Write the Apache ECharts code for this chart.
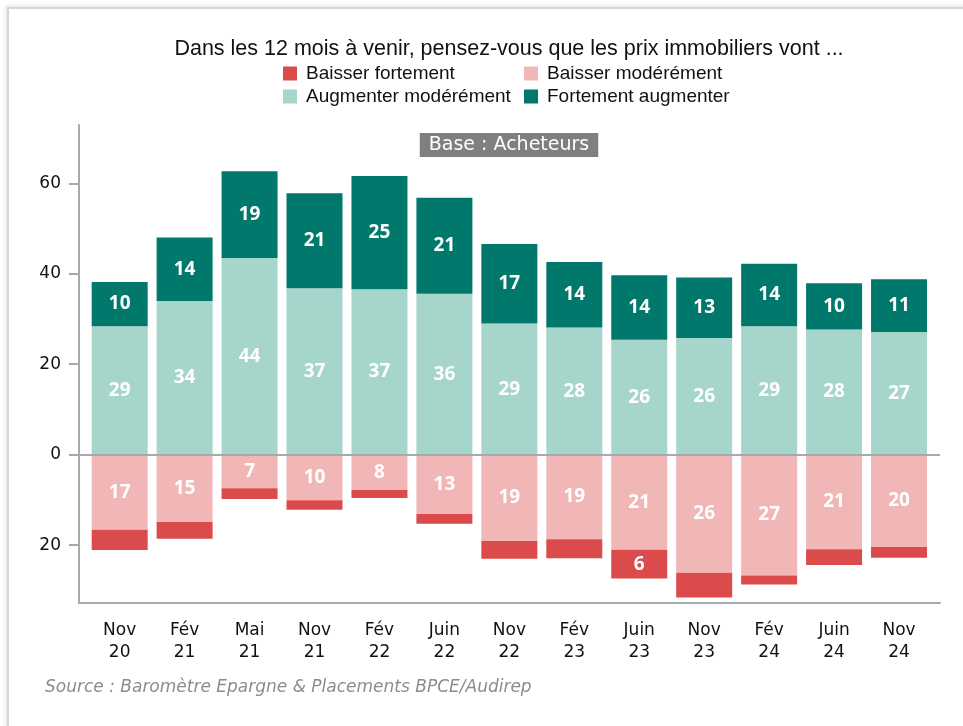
<!DOCTYPE html>
<html>
<head>
<meta charset="utf-8">
<script src="https://cdn.jsdelivr.net/npm/echarts@6/dist/echarts.min.js"></script>
<style>
  html, body { margin: 0; padding: 0; background: #fff; }
  #card { position: absolute; left: 7px; top: 7px; width: 970px; height: 730px;
          border-left: 2px solid #d6d6d6; border-top: 2px solid #d6d6d6;
          box-shadow: -2px -2px 4px rgba(0,0,0,0.08); }
  #main { position: absolute; left: 0; top: 0; width: 963px; height: 726px; }
</style>
</head>
<body>
<div id="card"></div>
<div id="main"></div>
<script>
// periodes d'enquete
var categories = ['Nov\n20', 'Fév\n21', 'Mai\n21', 'Nov\n21', 'Fév\n22', 'Juin\n22', 'Nov\n22',
                  'Fév\n23', 'Juin\n23', 'Nov\n23', 'Fév\n24', 'Juin\n24', 'Nov\n24']

// hauteurs des barres
var augmenterModere = [28.4, 34.0, 43.5, 36.8, 36.6, 35.6, 29.0, 28.1, 25.4, 25.8, 28.4, 27.7, 27.1]
var fortementAugmenter = [9.8, 14.0, 19.2, 21.0, 25.0, 21.2, 17.6, 14.5, 14.3, 13.4, 13.8, 10.2, 11.7]
var baisserModere = [-16.6, -14.9, -7.4, -10.1, -7.8, -13.1, -19.1, -18.7, -21.0, -26.1, -26.7, -20.9, -20.4]
var baisserFortement = [-4.5, -3.7, -2.4, -2.1, -1.8, -2.2, -3.9, -4.2, -6.4, -5.5, -2.0, -3.5, -2.4]

// etiquettes affichees
var augmenterModereLabels = [29, 34, 44, 37, 37, 36, 29, 28, 26, 26, 29, 28, 27]
var fortementAugmenterLabels = [10, 14, 19, 21, 25, 21, 17, 14, 14, 13, 14, 10, 11]
var baisserModereLabels = [17, 15, 7, 10, 8, 13, 19, 19, 21, 26, 27, 21, 20]
var baisserFortementLabels = [null, null, null, null, null, null, null, null, 6, null, null, null, null]

var yTicks = [-20, 0, 20, 40, 60]
var yMin = -32.8
var yMax = 72.9

var gridGrey = '#a5aaad'
var axisFont = '"DejaVu Sans", sans-serif'

function barSeries (name, values, labels, color) {
  return {
    name: name,
    type: 'bar',
    stack: 'total',
    barWidth: 56,
    data: values,
    itemStyle: { color: color },
    label: {
      show: true,
      position: 'inside',
      color: '#fff',
      fontFamily: '"Noto Sans", sans-serif',
      fontWeight: 'bold',
      fontSize: 19,
      formatter: function (p) {
        var l = labels[p.dataIndex]
        return l == null ? '' : String(l)
      }
    }
  }
}

var chart = echarts.init(document.getElementById('main'), null, { renderer: 'canvas' })

var legendIcon = 'path://M0,0H14V14H0Z M18,0L18,14'
var legendText = { fontFamily: '"Liberation Sans", Arial, sans-serif', fontSize: 19, color: '#111' }

chart.setOption({
  animation: false,
  backgroundColor: 'transparent',
  graphic: [
    {
      type: 'text', x: 509, y: 49,
      style: {
        text: 'Dans les 12 mois à venir, pensez-vous que les prix immobiliers vont ...',
        font: '21.5px "Liberation Sans", Arial, sans-serif',
        fill: '#111', textAlign: 'center', textVerticalAlign: 'middle'
      }
    },
    {
      type: 'text', x: 509, y: 145, z: 10,
      style: {
        text: 'Base : Acheteurs',
        font: '19px "DejaVu Sans", sans-serif',
        fill: '#fff', textAlign: 'center', textVerticalAlign: 'middle',
        backgroundColor: '#7f7f7f', padding: [3, 9, 2, 9]
      }
    },
    {
      type: 'text', x: 45, y: 688,
      style: {
        text: 'Source : Baromètre Epargne & Placements BPCE/Audirep',
        font: 'italic 17px "DejaVu Sans", sans-serif',
        fill: '#8c8c8c', textVerticalAlign: 'middle'
      }
    }
  ],
  legend: [
    {
      data: ['Baisser fortement', 'Augmenter modérément'],
      orient: 'vertical', left: 283, top: 64, padding: 0,
      itemWidth: 18, itemHeight: 14, itemGap: 4, icon: legendIcon,
      selectedMode: false, textStyle: legendText
    },
    {
      data: ['Baisser modérément', 'Fortement augmenter'],
      orient: 'vertical', left: 524, top: 64, padding: 0,
      itemWidth: 18, itemHeight: 14, itemGap: 4, icon: legendIcon,
      selectedMode: false, textStyle: legendText
    }
  ],
  grid: [
    // zone des barres
    { left: 87.2, right: 31.5, top: 125, bottom: 123 },
    // cadre des axes, un peu plus large
    { left: 79, right: 23, top: 125, bottom: 123 }
  ],
  xAxis: [
    {
      type: 'category',
      gridIndex: 0,
      data: categories,
      axisLine: { show: false },
      axisTick: { show: true, alignWithLabel: true, length: 9, lineStyle: { color: gridGrey, width: 2 } },
      axisLabel: {
        margin: 17,
        color: '#111',
        fontFamily: axisFont,
        fontSize: 17,
        lineHeight: 22
      }
    },
    {
      type: 'value',
      gridIndex: 1,
      min: 0,
      max: 1,
      splitLine: { show: false },
      axisTick: { show: false },
      axisLabel: { show: false },
      axisLine: { show: true, onZero: false, lineStyle: { color: gridGrey, width: 2 } }
    }
  ],
  yAxis: [
    {
      type: 'value',
      gridIndex: 0,
      min: yMin,
      max: yMax,
      offset: 8.2,
      splitLine: { show: false },
      axisLine: { show: true, onZero: false, lineStyle: { color: gridGrey, width: 2 } },
      axisTick: { show: true, length: 10, customValues: yTicks, lineStyle: { color: gridGrey, width: 2 } },
      axisLabel: {
        customValues: yTicks,
        margin: 18,
        color: '#111',
        fontFamily: axisFont,
        fontSize: 17,
        formatter: function (v) { return String(Math.abs(v)) }
      }
    },
    {
      type: 'value',
      gridIndex: 1,
      min: yMin,
      max: yMax,
      show: false
    }
  ],
  series: [
    barSeries('Baisser modérément', baisserModere, baisserModereLabels, '#f1b6b6'),
    barSeries('Baisser fortement', baisserFortement, baisserFortementLabels, '#dc4b4c'),
    barSeries('Augmenter modérément', augmenterModere, augmenterModereLabels, '#a6d6cb'),
    barSeries('Fortement augmenter', fortementAugmenter, fortementAugmenterLabels, '#00796c'),
    {
      // ligne du zero sur toute la largeur du cadre
      type: 'line',
      xAxisIndex: 1,
      yAxisIndex: 1,
      data: [],
      z: 5,
      markLine: {
        silent: true,
        symbol: 'none',
        label: { show: false },
        lineStyle: { color: gridGrey, width: 2, type: 'solid' },
        data: [{ yAxis: 0 }]
      }
    }
  ]
})
</script>
</body>
</html>
